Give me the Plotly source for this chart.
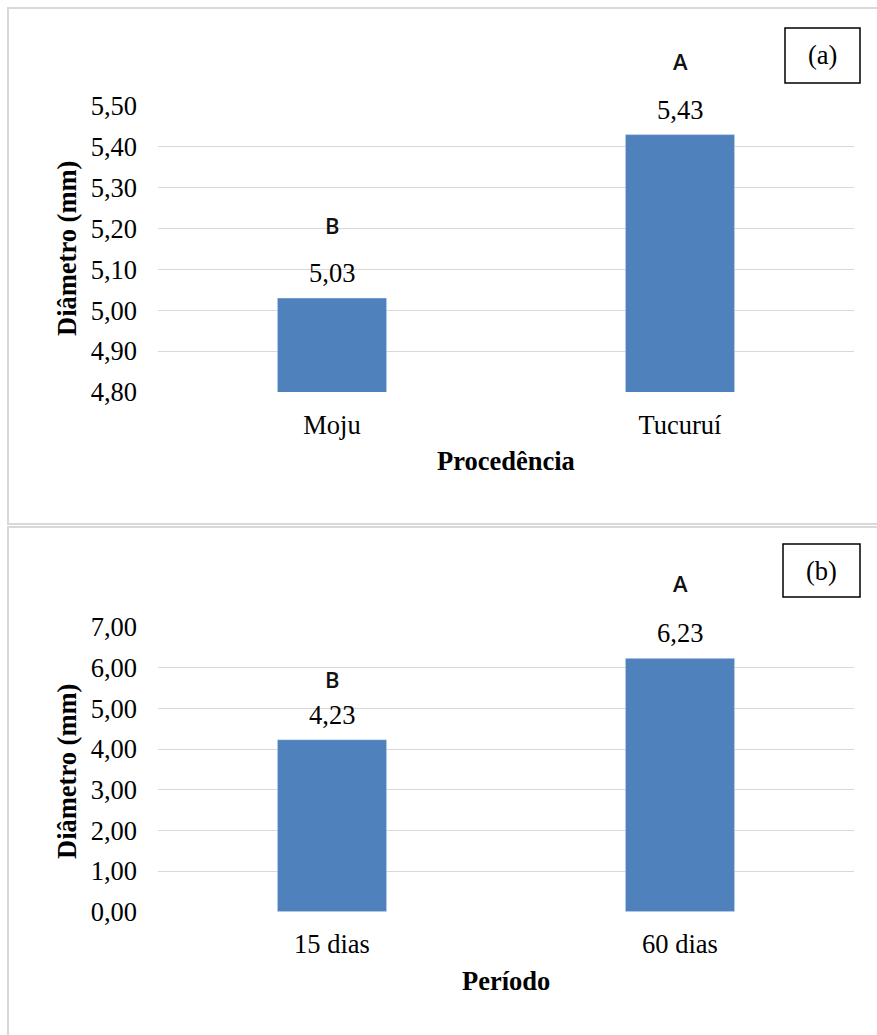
import plotly.graph_objects as go

# Panel (a): diameter by origin
origem = ["Moju", "Tucuruí"]
diam_origem = [5.03, 5.43]
letras_origem = ["B", "A"]

# Panel (b): diameter by period
periodo = ["15 dias", "60 dias"]
diam_periodo = [4.23, 6.23]
letras_periodo = ["B", "A"]

# y-axis ticks
ticks_a = [4.80, 4.90, 5.00, 5.10, 5.20, 5.30, 5.40, 5.50]
ticks_b = [0, 1, 2, 3, 4, 5, 6, 7]

W, H = 877, 1035
SERIF = "Liberation Serif, Times New Roman, serif"
SANS = "Open Sans, sans-serif"
FS = 26.5
BAR = "#4f81bd"
GRID = "#d9d9d9"


def px_x(p):
    return p / W


def px_y(p):
    return 1 - p / H


fig = go.Figure()
fig.add_trace(go.Bar(x=origem, y=diam_origem, marker_color=BAR,
                     xaxis="x", yaxis="y", hoverinfo="skip"))
fig.add_trace(go.Bar(x=periodo, y=diam_periodo, marker_color=BAR,
                     xaxis="x2", yaxis="y2", hoverinfo="skip"))

xdom = [px_x(158), px_x(854)]
common_x = dict(showgrid=False, showline=False, zeroline=False, ticks="",
                automargin=False,
                tickfont=dict(family=SERIF, size=FS, color="black"),
                ticklabelstandoff=14, fixedrange=True)
common_y = dict(showgrid=True, gridcolor=GRID, gridwidth=1.3, zeroline=False,
                showline=False, ticks="", tickformat=".2f", automargin=False,
                tickfont=dict(family=SERIF, size=FS, color="black"),
                ticklabelstandoff=20, fixedrange=True)

fig.update_layout(
    width=W, height=H,
    margin=dict(l=0, r=0, t=0, b=0, pad=0, autoexpand=False),
    paper_bgcolor="white", plot_bgcolor="white",
    separators=", ",
    showlegend=False,
    bargap=0.686,
    xaxis=dict(domain=xdom, anchor="y", **common_x),
    yaxis=dict(domain=[px_y(392), px_y(106)], range=[4.8, 5.5],
               tickvals=ticks_a, anchor="x", **common_y),
    xaxis2=dict(domain=xdom, anchor="y2", **common_x),
    yaxis2=dict(domain=[px_y(911.7), px_y(627)], range=[0, 7],
                tickvals=ticks_b, anchor="x2", **common_y),
)

annotations = []


def fmt(v):
    return f"{v:.2f}".replace(".", ",")


letter_shift_a = [73, 74]
letter_shift_b = [61, 75]
for xs, ys, letters, shifts, xr, yr in [
    (origem, diam_origem, letras_origem, letter_shift_a, "x", "y"),
    (periodo, diam_periodo, letras_periodo, letter_shift_b, "x2", "y2"),
]:
    for c, v, l, s in zip(xs, ys, letters, shifts):
        annotations.append(dict(x=c, y=v, xref=xr, yref=yr, text=fmt(v),
                                showarrow=False, yshift=25, yanchor="middle",
                                font=dict(family=SERIF, size=FS, color="black")))
        annotations.append(dict(x=c, y=v, xref=xr, yref=yr, text=l,
                                showarrow=False, yshift=s, yanchor="middle",
                                font=dict(family=SANS, size=22, color="#111111",
                                          weight=600)))

# axis titles
for txt, yc in [("Diâmetro (mm)", 249), ("Diâmetro (mm)", 772)]:
    annotations.append(dict(x=px_x(67), y=px_y(yc), xref="paper", yref="paper",
                            text=f"<b>{txt}</b>", textangle=-90, showarrow=False,
                            xanchor="center", yanchor="middle",
                            font=dict(family=SERIF, size=FS, color="black")))
for txt, yc in [("Procedência", 461), ("Período", 981)]:
    annotations.append(dict(x=px_x(506), y=px_y(yc), xref="paper", yref="paper",
                            text=f"<b>{txt}</b>", showarrow=False,
                            xanchor="center", yanchor="middle",
                            font=dict(family=SERIF, size=FS, color="black")))

# panel tags
shapes = []
for tag, (x0, y0, x1, y1) in [("(a)", (785, 28, 860, 83)), ("(b)", (783, 544, 860, 597))]:
    shapes.append(dict(type="rect", xref="paper", yref="paper",
                       x0=px_x(x0), x1=px_x(x1), y0=px_y(y1), y1=px_y(y0),
                       line=dict(color="black", width=1.5), fillcolor="white", layer="above"))
    annotations.append(dict(x=px_x((x0 + x1) / 2), y=px_y((y0 + y1) / 2),
                            xref="paper", yref="paper", text=tag, showarrow=False,
                            xanchor="center", yanchor="middle",
                            font=dict(family=SERIF, size=FS, color="black")))

# panel frames
for x0, y0, x1, y1 in [(8, 8, 880, 524), (8, 527, 880, 1040)]:
    shapes.append(dict(type="rect", xref="paper", yref="paper",
                       x0=px_x(x0), x1=px_x(x1), y0=px_y(y1), y1=px_y(y0),
                       line=dict(color=GRID, width=2), layer="below"))

fig.update_layout(annotations=annotations, shapes=shapes)

fig.write_html("out.html")
